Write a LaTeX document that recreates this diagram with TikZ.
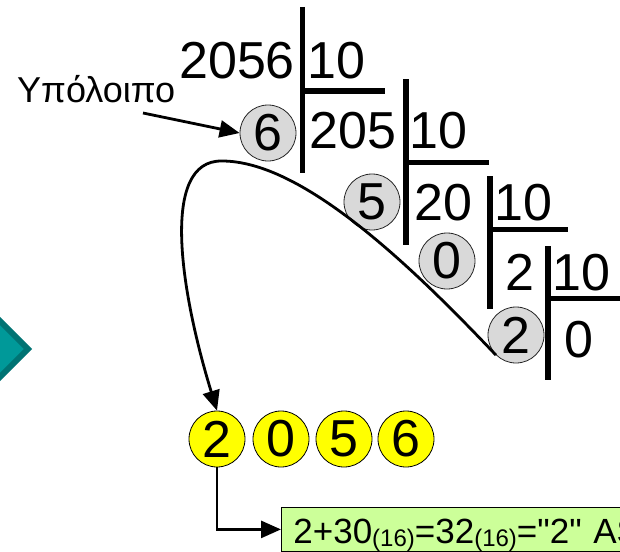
\documentclass[tikz,border=0pt]{standalone}
\usepackage{fontspec}
\setmainfont{Liberation Sans}[Ligatures=TeXOff]
\usetikzlibrary{arrows.meta}
\definecolor{gfill}{HTML}{D9D9D9}
\definecolor{yfill}{HTML}{FFFF00}
\definecolor{bfill}{HTML}{CCFF99}
\definecolor{tealin}{HTML}{009999}
\definecolor{tealout}{HTML}{007373}
\newcommand\subx[1]{\raisebox{-3pt}{\fontsize{24}{24}\selectfont #1}}
\begin{document}
\begin{tikzpicture}[x=1pt,y=-1pt,
  digit/.style={font=\fontsize{52}{58}\selectfont, inner sep=0pt, anchor=base west},
  bar/.style={line width=5.5pt},
  rem/.style={circle, draw=black!85, line width=0.8pt, fill=gfill, minimum size=56pt, inner sep=0pt, font=\fontsize{52}{58}\selectfont},
  res/.style={rem, fill=yfill, draw=black},
  conn/.style={line width=2.8pt, -{Triangle[length=20pt,width=17pt]}},
  resbox/.style={draw, line width=0.8pt, fill=bfill, minimum height=44pt, text width=396pt, align=left, inner xsep=12pt, inner ysep=0pt, text height=30pt, text depth=2pt, font=\fontsize{35}{40}\selectfont},
]
\useasboundingbox (0,0) rectangle (620,551);
\begin{scope}
\clip (0,0) rectangle (620,551);
% teal diamond
\filldraw[fill=tealin, draw=tealout, line width=6pt, line join=miter]
  (28,349) -- (-32,289) -- (-92,349) -- (-32,409) -- cycle;
% division texts
\node[digit] (n2056) at (179,78) {2056};
\node[digit] (d1) at (307,78) {10};
\node[digit] (n205) at (309,148) {205};
\node[digit] (d2) at (409,148) {10};
\node[digit] (n20) at (414,220) {20};
\node[digit] (d3) at (494,220) {10};
\node[digit] (n2) at (505,290) {2};
\node[digit] (d4) at (552,290) {10};
\node[digit] (n0) at (564,357) {0};
% bars
\draw[bar] (302.5,7) -- (302.5,173);
\draw[bar] (302.5,91) -- (385,91);
\draw[bar] (406,79) -- (406,245);
\draw[bar] (406,162.5) -- (489,162.5);
\draw[bar] (490,176) -- (490,309);
\draw[bar] (490,229.5) -- (568,229.5);
\draw[bar] (548,246) -- (548,380);
\draw[bar] (548,298.5) -- (622,298.5);
% remainders
\node[rem] (g6) at (268,133) {6};
\node[rem] (g5) at (372,202) {5};
\node[rem] (g0) at (447,261) {0};
\node[rem] (g2) at (516,335) {2};
% label
\node[font=\fontsize{36}{40}\selectfont, inner sep=0pt, anchor=base west] (lbl) at (17,102) {Υπόλοιπο};
\coordinate (lblend) at (143,113);
\draw[conn] (lblend) -- (g6.west);
% result digits
\node[res] (y2) at (217,439) {2};
\node[res] (y0) at (281,439) {0};
\node[res] (y5) at (344,439) {5};
\node[res] (y6) at (406,439) {6};
% curve
\coordinate (top) at (222,161);
\draw[conn] (g2.225) .. controls (405,259) and (300,161) .. (top)
  .. controls (160,160) and (180,290) .. (y2.north);
% result box
\node[resbox, anchor=north west] (rbox) at (281,507)
  {2+30\subx{(16)}=32\subx{(16)}="2" ASCII};
\draw[conn] (y2.south) |- (rbox.west);
\end{scope}
\end{tikzpicture}
\end{document}
